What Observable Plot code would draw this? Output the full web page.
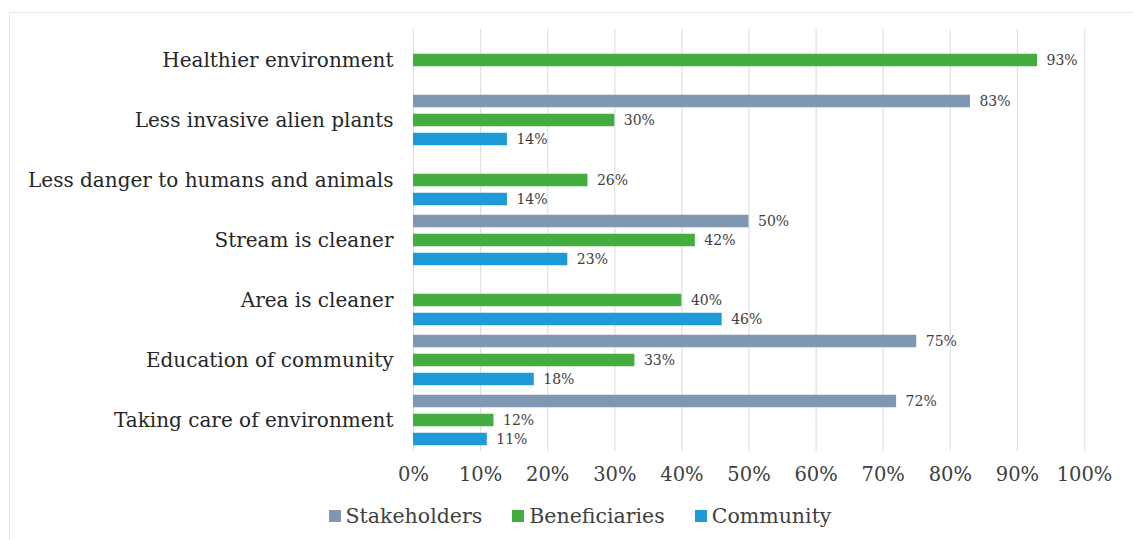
<!DOCTYPE html>
<html>
<head>
<meta charset="utf-8">
<script src="https://cdn.jsdelivr.net/npm/d3@7"></script>
<script src="https://cdn.jsdelivr.net/npm/@observablehq/plot@0.6"></script>
<style>
  html, body { margin: 0; padding: 0; background: #fff; }
  #frame { position: absolute; left: 9px; top: 12px; width: 1140px; height: 540px; border-left: 1.5px solid #e6e6e6; border-top: 1.5px solid #e6e6e6; }
  #chart { position: absolute; left: 0; top: 0; }
  #legend { position: absolute; left: 0; top: 504px; width: 1160px; text-align: center; font-size: 20.5px; color: #404040; }
  #legend span.item { margin: 0 15px; white-space: nowrap; }
  #legend span.sw { display: inline-block; width: 12px; height: 12px; margin-right: 5px; vertical-align: 1px; }
</style>
</head>
<body>
<div id="frame"></div>
<div id="chart"></div>
<div id="legend"></div>
<script>
const categories = [
  "Healthier environment",
  "Less invasive alien plants",
  "Less danger to humans and animals",
  "Stream is cleaner",
  "Area is cleaner",
  "Education of community",
  "Taking care of environment"
];
const seriesNames = ["Stakeholders", "Beneficiaries", "Community"];
const stakeholders  = [null, 83, null, 50, null, 75, 72];
const beneficiaries = [93, 30, 26, 42, 40, 33, 12];
const community     = [null, 14, 14, 23, 46, 18, 11];
const xTicks = [0, 10, 20, 30, 40, 50, 60, 70, 80, 90, 100];
const colors = ["#7f97b2", "#43ae3f", "#1f9ad8"];

const seriesValues = [stakeholders, beneficiaries, community];
const offsets = [-19, 0, 19];
const font = "'DejaVu Serif', serif";

const marks = [
  Plot.gridX(xTicks, {stroke: "#e2e2e2", strokeOpacity: 1, strokeWidth: 1.3})
];
seriesValues.forEach((vals, i) => {
  const data = categories.map((c, j) => ({category: c, value: vals[j]})).filter(d => d.value != null);
  marks.push(Plot.barX(data, {
    x: "value", y: "category", fill: colors[i],
    insetTop: 23.75 + offsets[i], insetBottom: 23.75 - offsets[i]
  }));
  marks.push(Plot.text(data, {
    x: "value", y: "category", text: d => d.value + "%",
    dy: offsets[i], dx: 9, textAnchor: "start",
    fill: "#404040", fontSize: 14, fontFamily: font
  }));
});

const chart = Plot.plot({
  width: 1133,
  height: 500,
  marginTop: 29,
  marginBottom: 49,
  marginLeft: 413,
  marginRight: 49,
  style: {fontFamily: font, background: "transparent"},
  x: {domain: [0, 100], ticks: xTicks, tickFormat: d => d + "%", tickSize: 0, tickPadding: 16, label: null},
  y: {domain: categories, padding: 0, tickSize: 0, tickPadding: 20, label: null},
  marks: [
    ...marks,
    Plot.axisX(xTicks, {tickSize: 0, tickPadding: 16, tickFormat: d => d + "%", fontSize: 19.5, fill: "#404040", label: null}),
    Plot.axisY({tickSize: 0, tickPadding: 20, fontSize: 20, fill: "#262626", label: null})
  ]
});
document.getElementById("chart").appendChild(chart);

const legend = document.getElementById("legend");
legend.style.fontFamily = font;
seriesNames.forEach((name, i) => {
  const item = document.createElement("span");
  item.className = "item";
  const sw = document.createElement("span");
  sw.className = "sw";
  sw.style.background = colors[i];
  item.appendChild(sw);
  item.appendChild(document.createTextNode(name));
  legend.appendChild(item);
});
</script>
</body>
</html>
